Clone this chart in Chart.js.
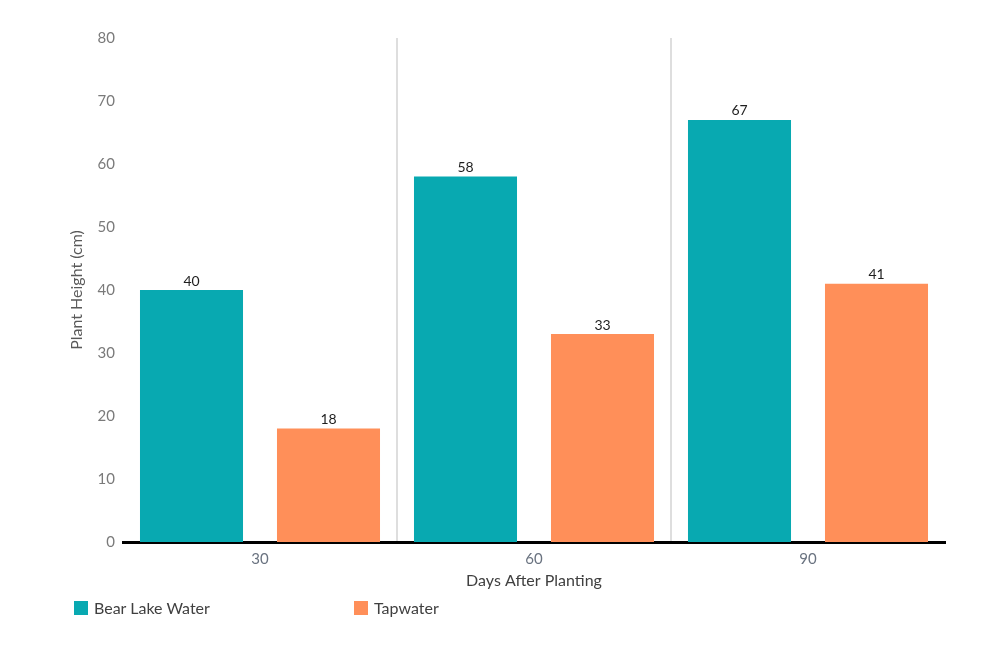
<!DOCTYPE html>
<html>
<head>
<meta charset="utf-8">
<script src="https://cdn.jsdelivr.net/npm/chart.js@4/dist/chart.umd.min.js"></script>
<style>
    html, body { margin: 0; padding: 0; background: #fff; }
    #wrap { position: relative; width: 1000px; height: 666px; }
    #legend { position: absolute; left: 74px; top: 598px; font: 16px Lato, sans-serif; color: #404040; }
    #legend span.item { position: absolute; white-space: nowrap; display: flex; align-items: center; }
    #legend i { display: inline-block; width: 14px; height: 14px; margin-right: 6px; }
</style>
</head>
<body>
<div id="wrap">
    <canvas id="chart" width="1000" height="666"></canvas>
    <div id="legend"></div>
</div>
<script>
const days = ['30', '60', '90'];
const bearLake = [40, 58, 67];
const tapwater = [18, 33, 41];
const seriesNames = ['Bear Lake Water', 'Tapwater'];
const seriesColors = ['#08a9b1', '#ff8f59'];

const FONT = 'Lato, sans-serif';

// Value labels above each bar
const barValues = {
    id: 'barValues',
    afterDatasetsDraw(chart) {
        const ctx = chart.ctx;
        ctx.save();
        ctx.font = '14px ' + FONT;
        ctx.fillStyle = '#1f1f1f';
        ctx.textAlign = 'center';
        ctx.textBaseline = 'bottom';
        chart.data.datasets.forEach((ds, i) => {
            chart.getDatasetMeta(i).data.forEach((bar, j) => {
                ctx.fillText(ds.data[j], bar.x, bar.y - 2);
            });
        });
        ctx.restore();
    }
};

new Chart(document.getElementById('chart'), {
    type: 'bar',
    data: {
        labels: days,
        datasets: [
            { label: seriesNames[0], data: bearLake, backgroundColor: seriesColors[0] },
            { label: seriesNames[1], data: tapwater, backgroundColor: seriesColors[1] },
        ],
    },
    options: {
        responsive: false,
        animation: false,
        layout: { padding: { left: 0, right: 55, top: 38, bottom: 74 } },
        datasets: { bar: { categoryPercentage: 1.0, barPercentage: 0.752 } },
        plugins: {
            legend: { display: false },
            tooltip: { enabled: false },
        },
        scales: {
            y: {
                min: 0,
                max: 80,
                afterFit(scale) { scale.width = 123; },
                grid: { display: false, drawTicks: false },
                border: { display: false },
                ticks: { stepSize: 10, padding: 8, font: { size: 15, family: FONT }, color: '#7a7a7a' },
                title: {
                    display: true, text: 'Plant Height (cm)',
                    font: { size: 16, family: FONT }, color: '#595959',
                    padding: { top: 67, bottom: 0 },
                },
            },
            x: {
                afterFit(scale) { scale.height = 50; },
                grid: {
                    drawTicks: false,
                    lineWidth: 2,
                    // only the separators between categories
                    color: (c) => (c.type === 'tick' && c.index > 0 ? '#dedede' : 'rgba(0,0,0,0)'),
                },
                border: { display: true, color: '#000', width: 3 },
                ticks: { padding: 8, font: { size: 15, family: FONT }, color: '#6a7380' },
                title: { display: true, text: 'Days After Planting', font: { size: 16, family: FONT }, color: '#404040', padding: 2 },
            },
        },
    },
    plugins: [barValues],
});

// Legend below the chart
const legendEl = document.getElementById('legend');
const legendX = [0, 280];
seriesNames.forEach((name, i) => {
    const s = document.createElement('span');
    s.className = 'item';
    s.style.left = legendX[i] + 'px';
    s.innerHTML = '<i style="background:' + seriesColors[i] + '"></i>' + name;
    legendEl.appendChild(s);
});
</script>
</body>
</html>
